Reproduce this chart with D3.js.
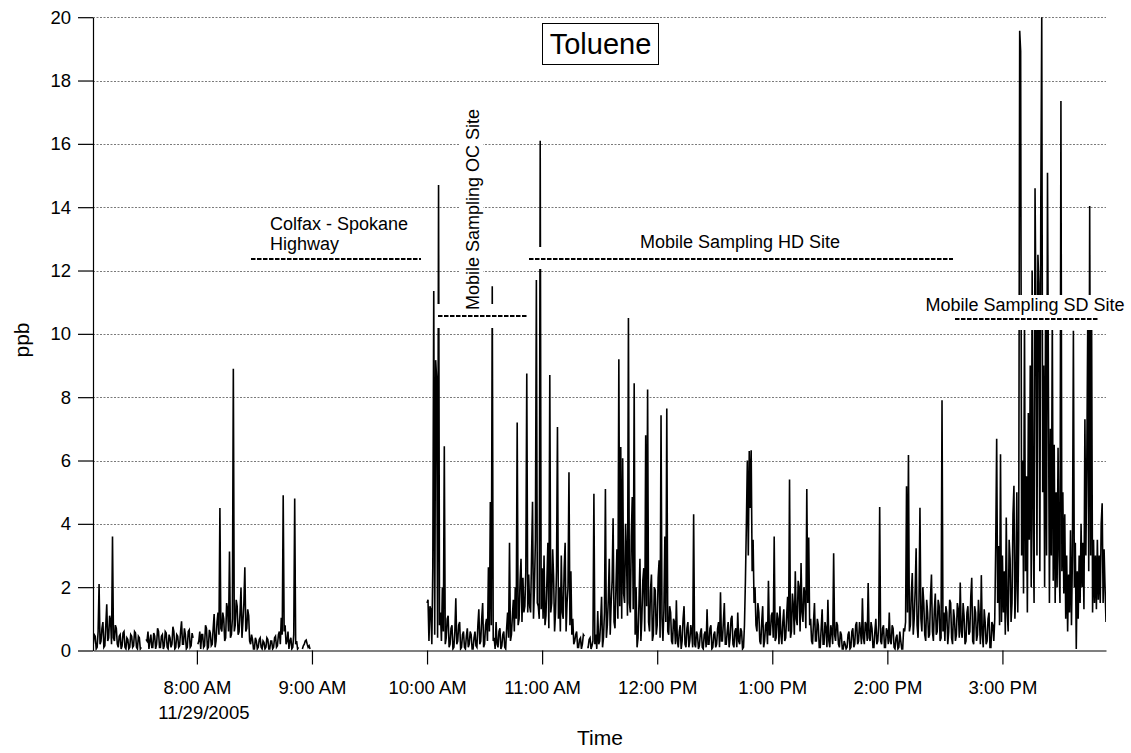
<!DOCTYPE html>
<html><head><meta charset="utf-8">
<script src="https://cdn.jsdelivr.net/npm/d3@7"></script>
<style>
body{margin:0;background:#fff}
svg{display:block}
text{font-family:"Liberation Sans",Arial,Helvetica,sans-serif;fill:#000}
</style>
</head><body>
<svg id="chart" width="1131" height="753"></svg>
<script>
// ---------------- data ----------------
const chartTitle = "Toluene";
const yLabel = "ppb";
const xLabel = "Time";
const dateLabel = "11/29/2005";
const yTicks = [0, 2, 4, 6, 8, 10, 12, 14, 16, 18, 20];
const xTickHours = [8, 9, 10, 11, 12, 13, 14, 15];
const xTickLabels = ["8:00 AM", "9:00 AM", "10:00 AM", "11:00 AM", "12:00 PM", "1:00 PM", "2:00 PM", "3:00 PM"];
const annotationLabels = ["Colfax - Spokane", "Highway", "Mobile Sampling OC Site", "Mobile Sampling HD Site", "Mobile Sampling SD Site"];

// readings every 30 s; start given in minutes after 7:00 AM (null = no data)
const stepSeconds = 30;
const seg1StartMin = 6;
const seg1Values = [
0.2,0.5, 0.45,0.05, 0.1,0.6, 2.1,0.2, 0.3,0.7, 0.9,0.1, 0.15,0.8, 1.46,0.3, 0.4,1.1, 0.95,0.2,
3.6,0.4, 0.3,0.8, 0.7,0.2, 0.1,0.45, 0.5,0.05, 0.15,0.55, 0.6,0.1, 0.05,0.4, 0.35,0.05, 0.1,0.5,
0.45,0.1, 0.15,0.6, 0.55,0.1, 0.05,0.45, 0.4,0.05, 0.1,null, null,null, null,0.35, 0.3,0.6, 0.05,0.3,
0.5,0.1, 0.1,0.55, 0.45,0.05, 0.2,0.7, 0.6,0.1, 0.1,0.45, 0.5,0.05, 0.15,0.6, 0.55,0.1, 0.05,0.5,
0.4,0.1, 0.2,0.75, 0.6,0.05, 0.1,0.5, 0.45,0.1, 0.15,0.6, 0.92,0.2, 0.2,0.7, 0.5,0.05, 0.1,0.6,
0.65,0.1, 0.15,0.55, 0.4,null, null,null, null,0.2, 0.3,0.6, 0.05,0.5, 0.5,0.1, 0.15,0.8, 0.7,0.05,
0.1,0.65, 0.55,0.15, 0.2,0.7, 1.15,0.1, 0.3,0.9, 1.2,0.5, 4.5,0.7, 0.6,1.2, 1.0,0.3, 0.4,1.5,
1.3,0.6, 3.13,0.4, 0.5,1.0, 8.9,0.6, 0.8,1.6, 1.4,0.5, 0.6,1.2, 1.97,0.4, 0.9,1.5, 2.63,0.6,
0.7,1.3, 1.1,0.3, 0.2,0.5, 0.35,0.05, 0.05,0.4, 0.3,0.05, 0.1,0.35, 0.4,0.1, 0.05,0.3, 0.25,0.05,
0.1,0.4, 0.35,0.05, 0.05,0.3, 0.3,0.05, 0.1,0.4, 0.45,0.1, 0.15,0.5, 0.6,0.2, 1.03,0.5, 4.9,0.6,
0.8,0.2, 0.3,0.6, 0.05,0.3, 0.4,0.05, 0.1,0.5, 4.8,0.2, 0.3,0.05, 0.1,null, null,null, 0.05,0.15,
0.2,0.3, 0.33,0.2, 0.1,0.15, 0.05];

const seg2StartMin = 180;
const seg2Values = [
1.5,1.6, 0.3,1.4, 1.3,0.2, 2.64,11.35, 0.5,9.17, 8.6,0.4, 14.7,0.8, 1.2,0.3, 2.0,0.6, 6.45,0.2,
0.4,1.0, 1.1,0.1, 0.2,0.7, 0.8,0.05, 0.1,0.6, 1.65,0.2, 0.3,0.8, 0.9,0.05, 0.1,0.5, 0.6,0.1,
0.05,0.45, 0.7,0.1, 0.2,0.6, 0.5,0.05, 0.05,0.4, 0.6,0.15, 0.1,0.8, 1.3,0.2, 0.3,1.0, 1.5,0.1,
0.2,0.8, 1.0,0.3, 2.63,0.6, 4.69,0.8, 11.5,0.3, 0.4,0.05, 0.9,0.2, 0.1,0.6, 0.7,0.05, 0.15,0.5,
0.6,0.1, 0.05,0.7, 1.2,0.4, 3.4,0.3, 0.5,1.1, 1.6,0.6, 2.0,1.0, 7.2,0.8, 1.0,2.2, 2.9,0.9,
2.3,1.2, 1.4,2.5, 8.75,1.2, 2.4,1.4, 1.2,3.0, 4.7,1.0, 2.0,3.5, 11.7,1.5, 1.4,1.0, 16.1,1.3,
2.6,1.0, 3.0,0.8, 1.1,2.2, 3.4,0.7, 8.7,1.2, 1.5,3.2, 2.3,0.6, 1.2,2.5, 7.06,1.0, 2.0,0.6,
3.0,1.2, 1.0,2.6, 3.4,0.6, 1.5,2.0, 5.63,0.8, 2.5,0.5, 1.0,0.2, 0.3,0.5, 0.6,0.1, 0.1,0.35,
0.4,0.05, 0.2,0.5, 0.45,null, null,0.1, 0.1,0.35, 0.4,0.05, 0.15,0.3, 4.95,0.2, 0.5,0.05, 1.25,0.2,
0.3,0.9, 1.7,0.1, 0.4,1.2, 5.1,0.4, 0.8,1.6, 2.9,0.5, 1.5,2.2, 4.18,0.9, 0.7,2.0, 3.2,1.0,
9.2,1.4, 6.43,1.0, 6.07,1.8, 1.5,4.0, 3.0,1.1, 10.5,1.5, 1.2,3.6, 4.85,1.3, 8.44,0.5, 2.0,0.1,
0.4,1.5, 2.9,0.3, 1.0,2.2, 2.6,0.6, 6.8,1.4, 8.24,0.9, 0.6,1.9, 2.4,0.3, 0.5,2.0, 1.9,0.5,
0.8,2.3, 2.85,0.4, 7.43,1.0, 0.3,1.3, 3.6,0.9, 7.64,0.6, 0.5,1.4, 1.2,0.3, 0.2,1.0, 0.9,0.2,
1.59,0.3, 0.1,0.6, 0.8,0.05, 0.3,1.0, 1.4,0.2, 0.1,0.7, 0.9,0.1, 0.3,0.8, 0.6,0.1, 4.3,0.2,
0.1,0.6, 0.5,0.05, 0.15,0.55, 0.7,0.1, 0.05,0.5, 0.6,0.1, 1.3,0.2, 0.2,0.7, 0.8,0.05, 0.1,0.5,
0.6,0.1, 0.2,0.7, 0.9,0.1, 1.84,0.3, 0.3,0.9, 1.5,0.2, 0.2,0.6, 0.9,0.1, 0.4,1.0, 1.1,0.2,
0.1,0.6, 0.7,0.1, 1.2,0.3, 0.2,0.7, 0.6,0.05, 0.1,0.8, 2.2,4.0, 6.0,3.0, 6.3,4.5, 6.32,2.5,
3.5,1.5, 2.0,0.8, 0.6,1.5, 1.2,0.3, 0.2,0.9, 1.4,0.1, 0.3,0.8, 0.9,0.2, 2.2,0.5, 0.5,1.1,
1.2,0.4, 3.6,0.3, 0.4,1.2, 1.0,0.2, 1.4,0.5, 0.2,0.9, 1.3,0.3, 0.4,1.1, 1.7,0.6, 5.4,0.4,
0.6,1.8, 1.4,0.5, 2.5,1.0, 0.8,2.2, 2.0,0.6, 2.76,1.2, 0.9,2.0, 1.8,0.7, 5.1,1.5, 3.57,0.8,
1.0,0.3, 0.2,0.9, 1.5,0.3, 0.3,1.0, 0.8,0.1, 0.1,0.7, 1.3,0.2, 0.2,0.9, 0.7,0.1, 1.6,0.3,
0.1,0.8, 0.6,0.2, 3.07,0.5, 0.3,0.9, 0.8,0.2, 0.1,0.6, 0.5,0.05, 0.05,0.3, 0.2,0.05, 0.1,0.5,
0.6,0.05, 0.1,0.6, 0.7,0.1, 0.2,0.8, 0.9,0.2, 0.3,0.9, 0.6,0.2, 1.65,0.4, 0.2,0.9, 0.8,0.3,
2.13,0.4, 0.3,0.9, 0.7,0.1, 0.1,0.6, 1.0,0.2, 0.3,0.8, 4.53,0.3, 0.2,0.7, 0.8,0.1, 0.1,0.7,
0.6,0.2, 1.2,0.3, 0.2,0.8, 0.7,0.1, 0.05,0.4, 0.5,0.05, 0.1,0.6, 0.3,0.05, 0.05,0.7, 0.6,0.9,
5.19,1.2, 6.17,0.6, 0.8,1.8, 2.45,0.5, 1.0,1.9, 3.23,0.8, 0.4,1.6, 4.51,1.0, 0.6,2.0, 1.5,0.5,
0.3,1.6, 1.2,0.4, 0.5,1.7, 2.4,0.6, 0.3,1.3, 1.8,0.5, 0.6,1.6, 1.4,0.3, 0.4,7.9, 0.6,1.2,
0.3,1.4, 1.2,0.2, 0.6,1.6, 1.5,0.4, 0.2,1.3, 1.0,0.3, 0.5,1.5, 1.3,0.4, 2.15,0.6, 0.4,1.5,
1.1,0.2, 0.3,1.2, 1.4,0.5, 0.6,1.7, 2.3,0.3, 0.2,1.4, 1.2,0.3, 0.5,1.6, 1.0,0.2, 2.38,0.5,
0.1,1.3, 0.9,0.2, 0.3,1.0, 1.2,0.1, 0.1,0.9, 0.8,0.3,
1.0,3.3, 6.69,1.5, 3.3,0.8, 6.2,0.9, 3.0,1.2, 2.5,0.5, 4.2,1.2, 0.6,3.5, 2.9,0.9, 1.5,4.3,
5.2,1.0, 2.0,5.0, 1.2,3.5, 19.57,18.93, 3.0,6.0, 1.8,10.5, 2.5,5.5, 1.2,7.5, 3.5,9.0, 2.0,12.0,
4.0,1.5, 14.6,10.5, 3.0,12.5, 11.6,2.5, 14.06,20.0, 5.0,9.0, 2.0,11.0, 3.0,15.09, 8.0,1.5, 7.0,3.0,
10.6,2.2, 6.5,1.5, 5.0,2.0, 6.4,3.0, 1.5,17.35, 2.5,5.0, 1.8,4.3, 1.0,3.0, 0.6,2.4, 1.2,3.8,
0.8,3.0, 10.1,2.0, 3.4,0.05, 2.5,1.0, 3.0,1.5, 4.0,2.0, 3.4,1.3, 7.3,3.0, 6.0,10.5, 2.5,14.04,
3.0,10.4, 1.2,3.5, 1.5,3.0, 1.3,3.5, 1.6,3.0, 1.5,4.0, 4.65,1.5, 3.2,2.0, 0.9];

// ---------------- build ----------------
const base = new Date(2005, 10, 29, 7, 0, 0);
function segPoints(startMin, vals) {
  return vals.map((v, i) => ({ t: d3.timeSecond.offset(base, startMin * 60 + i * stepSeconds), v: v }));
}
const points = segPoints(seg1StartMin, seg1Values)
  .concat([{ t: d3.timeMinute.offset(base, 150), v: null }])
  .concat(segPoints(seg2StartMin, seg2Values));

const L = 93, R = 1106, T = 17.2, B = 650.5;
const svg = d3.select("#chart");

const x = d3.scaleTime()
  .domain([new Date(2005, 10, 29, 7, 5, 50), new Date(2005, 10, 29, 15, 54, 0)])
  .range([L, R]);
const y = d3.scaleLinear().domain([0, 20]).range([B, T]);

// grid
svg.append("g").selectAll("line")
  .data(yTicks.filter(d => d > 0))
  .join("line")
  .attr("x1", L).attr("x2", R)
  .attr("y1", d => Math.round(y(d)) + 0.5).attr("y2", d => Math.round(y(d)) + 0.5)
  .attr("stroke", "#7a7a7a").attr("stroke-width", 1)
  .attr("stroke-dasharray", "2,1.5");

// clip
svg.append("clipPath").attr("id", "plotclip")
  .append("rect").attr("x", L).attr("y", T - 1).attr("width", R - L).attr("height", B - T + 1);

const line = d3.line()
  .defined(d => d.v != null)
  .x(d => x(d.t)).y(d => y(d.v));

svg.append("path")
  .datum(points)
  .attr("clip-path", "url(#plotclip)")
  .attr("fill", "none")
  .attr("stroke", "#000")
  .attr("stroke-width", 1.6)
  .attr("d", line);

// axes
const yAxis = d3.axisLeft(y).tickValues(yTicks).tickSize(15).tickSizeOuter(0).tickPadding(7)
  .tickFormat(d3.format("d"));
const gy = svg.append("g").attr("transform", `translate(${L},0)`).call(yAxis);
gy.selectAll("text").style("font-size", "18.5px");
gy.selectAll("line,path").attr("stroke", "#000").attr("stroke-width", 1.2);

const xTickDates = xTickHours.map(h => new Date(2005, 10, 29, h, 0, 0));
const xAxis = d3.axisBottom(x).tickValues(xTickDates).tickSize(14).tickSizeOuter(0).tickPadding(16)
  .tickFormat((d, i) => xTickLabels[i]);
const gx = svg.append("g").attr("transform", `translate(0,${B})`).call(xAxis);
gx.selectAll("text").style("font-size", "18.5px");
gx.selectAll("line,path").attr("stroke", "#000").attr("stroke-width", 1.2);

svg.append("text").attr("x", x(xTickDates[0]) + 7).attr("y", 719)
  .attr("text-anchor", "middle").style("font-size", "18.5px").text(dateLabel);

svg.append("text").attr("x", 600).attr("y", 745).attr("text-anchor", "middle")
  .style("font-size", "21px").text(xLabel);
svg.append("text").attr("transform", "translate(29,340) rotate(-90)")
  .attr("text-anchor", "middle").style("font-size", "21px").text(yLabel);

// title box
svg.append("rect").attr("x", 542.5).attr("y", 23.5).attr("width", 116).attr("height", 41)
  .attr("fill", "#fff").attr("stroke", "#000").attr("stroke-width", 1);
svg.append("text").attr("x", 600.5).attr("y", 54).attr("text-anchor", "middle")
  .style("font-size", "29px").text(chartTitle);

// annotations: white backgrounds first, then text and dashed rules
const annBg = svg.append("g");
const ann = svg.append("g");
function box(x0, y0, w, h) {
  annBg.append("rect").attr("x", x0).attr("y", y0).attr("width", w).attr("height", h).attr("fill", "#fff");
}
function dash(x1, x2, yy) {
  ann.append("line").attr("x1", x1).attr("x2", x2).attr("y1", yy).attr("y2", yy)
    .attr("stroke", "#000").attr("stroke-width", 2).attr("stroke-dasharray", "4.5,1.5");
}
// Colfax - Spokane Highway
box(265, 212, 150, 42);
const t1 = ann.append("text").style("font-size", "18px");
t1.append("tspan").attr("x", 270).attr("y", 229.5).text(annotationLabels[0]);
t1.append("tspan").attr("x", 270).attr("y", 250).text(annotationLabels[1]);
box(249, 249, 175, 20);
dash(251, 421, 259);

// OC site
box(460, 105, 23, 208);
ann.append("text").attr("transform", "translate(478.5,209.5) rotate(-90)")
  .attr("text-anchor", "middle").style("font-size", "18px").text(annotationLabels[2]);
box(436, 304, 93, 24);
dash(438, 527, 316);

// HD site
box(636, 230, 208, 22);
ann.append("text").attr("x", 740).attr("y", 248).attr("text-anchor", "middle")
  .style("font-size", "18px").text(annotationLabels[3]);
box(527, 247, 428, 22);
dash(529, 953, 259);

// SD site
box(921, 295, 207, 20);
ann.append("text").attr("x", 1025).attr("y", 311).attr("text-anchor", "middle")
  .style("font-size", "18px").text(annotationLabels[4]);
box(953, 309, 147, 21);
dash(955, 1098, 319);
</script>
</body></html>
